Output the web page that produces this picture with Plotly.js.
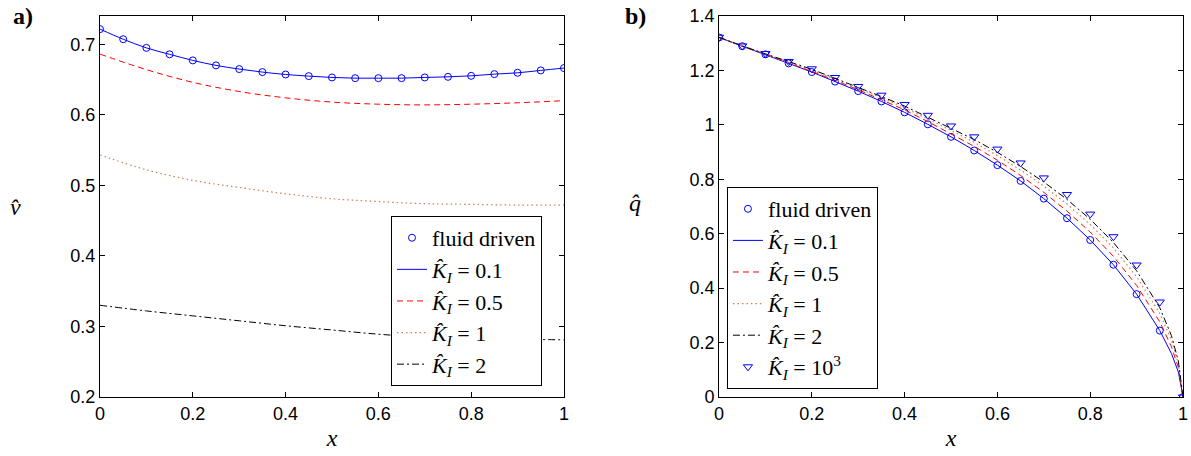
<!DOCTYPE html>
<html>
<head>
<meta charset="utf-8">
<script src="https://cdn.plot.ly/plotly-3.0.1.min.js"></script>
<style>html,body{margin:0;padding:0;background:#fff;}#chart{width:1191px;height:456px;}</style>
</head>
<body>
<div id="chart"></div>
<script>
// ---------- panel a) ----------
const xFine = [0,0.05,0.1,0.15,0.2,0.25,0.3,0.35,0.4,0.45,0.5,0.55,0.6,0.65,0.7,0.75,0.8,0.85,0.9,0.95,1];
const xCoarse = [0,0.1,0.2,0.3,0.4,0.5,0.6,0.7,0.8,0.9,1];
const vFluid = [0.7214,0.7071,0.6948,0.6857,0.6771,0.6700,0.6648,0.6605,0.6571,0.6548,0.6529,0.6519,0.6519,0.6519,0.6529,0.6538,0.6552,0.6576,0.6595,0.6629,0.6662];
const vK01 = [0.7214,0.7071,0.6948,0.6857,0.6771,0.6700,0.6648,0.6605,0.6571,0.6548,0.6529,0.6519,0.6519,0.6519,0.6529,0.6538,0.6552,0.6576,0.6595,0.6629,0.6662];
const vK05 = [0.686,0.664,0.646,0.633,0.624,0.618,0.615,0.614,0.615,0.617,0.620];
const vK1  = [0.543,0.522,0.507,0.497,0.488,0.481,0.477,0.474,0.473,0.472,0.472];
const vK2  = [0.330,0.322,0.315,0.308,0.301,0.295,0.289,0.285,0.283,0.282,0.281];

// ---------- panel b) ----------
const xTip = [0,0.05,0.1,0.15,0.2,0.25,0.3,0.35,0.4,0.45,0.5,0.55,0.6,0.65,0.7,0.75,0.8,0.85,0.9,0.95,0.975,0.99,1];
const qFluid = [1.321,1.289,1.259,1.226,1.194,1.159,1.124,1.086,1.046,1.002,0.956,0.906,0.852,0.794,0.729,0.657,0.577,0.486,0.378,0.244,0];
const qK01 = [1.321,1.289,1.259,1.226,1.194,1.159,1.124,1.086,1.046,1.002,0.956,0.906,0.852,0.794,0.729,0.657,0.577,0.486,0.378,0.244,0.160,0.092,0];
const qK05 = [1.321,1.289,1.260,1.228,1.198,1.164,1.129,1.093,1.055,1.012,0.968,0.921,0.870,0.814,0.752,0.683,0.606,0.517,0.410,0.276,0.185,0.108,0];
const qK1  = [1.321,1.290,1.261,1.230,1.201,1.168,1.134,1.100,1.063,1.022,0.980,0.936,0.887,0.834,0.775,0.709,0.634,0.548,0.442,0.307,0.210,0.122,0];
const qK2  = [1.322,1.290,1.261,1.232,1.204,1.171,1.138,1.104,1.069,1.028,0.988,0.946,0.899,0.847,0.790,0.726,0.653,0.568,0.464,0.328,0.226,0.132,0];
const qK1e3 = [1.322,1.290,1.262,1.233,1.206,1.174,1.141,1.109,1.075,1.035,0.996,0.956,0.911,0.860,0.805,0.744,0.672,0.589,0.485,0.349,0];

const legendNames = ['fluid driven','<i>K\u0302</i><sub><i>I</i></sub> = 0.1','<i>K\u0302</i><sub><i>I</i></sub> = 0.5','<i>K\u0302</i><sub><i>I</i></sub> = 1','<i>K\u0302</i><sub><i>I</i></sub> = 2','<i>K\u0302</i><sub><i>I</i></sub> = 10<sup>3</sup>'];

const BLUE = '#0000ff', RED = '#ff0000', BROWN = '#cf7f55', BLACK = '#000000';
const SERIF = 'Liberation Serif';
const SANS = 'Liberation Sans';

const traces = [
  // panel a
  {x: xFine, y: vFluid, xaxis:'x', yaxis:'y', mode:'markers', name: legendNames[0], legend:'legend', legendgroup:'a0',
   marker:{symbol:'circle-open', size:7, color:BLUE, line:{width:1, color:BLUE}}},
  {x: xFine, y: vK01, xaxis:'x', yaxis:'y', mode:'lines', name: legendNames[1], legend:'legend', legendgroup:'a1',
   line:{color:BLUE, width:1, shape:'spline'}},
  {x: xCoarse, y: vK05, xaxis:'x', yaxis:'y', mode:'lines', name: legendNames[2], legend:'legend', legendgroup:'a2',
   line:{color:RED, width:1, dash:'6px,4px', shape:'spline'}},
  {x: xCoarse, y: vK1, xaxis:'x', yaxis:'y', mode:'lines', name: legendNames[3], legend:'legend', legendgroup:'a3',
   line:{color:BROWN, width:1.2, dash:'1.5px,3px', shape:'spline'}},
  {x: xCoarse, y: vK2, xaxis:'x', yaxis:'y', mode:'lines', name: legendNames[4], legend:'legend', legendgroup:'a4',
   line:{color:BLACK, width:1, dash:'7px,3px,2px,3px', shape:'spline'}},
  // panel b
  {x: xFine, y: qFluid, xaxis:'x2', yaxis:'y2', mode:'markers', name: legendNames[0], legend:'legend2', legendgroup:'b0',
   marker:{symbol:'circle-open', size:7, color:BLUE, line:{width:1, color:BLUE}}},
  {x: xTip, y: qK01, xaxis:'x2', yaxis:'y2', mode:'lines', name: legendNames[1], legend:'legend2', legendgroup:'b1',
   line:{color:BLUE, width:1}},
  {x: xTip, y: qK05, xaxis:'x2', yaxis:'y2', mode:'lines', name: legendNames[2], legend:'legend2', legendgroup:'b2',
   line:{color:RED, width:1, dash:'6px,4px'}},
  {x: xTip, y: qK1, xaxis:'x2', yaxis:'y2', mode:'lines', name: legendNames[3], legend:'legend2', legendgroup:'b3',
   line:{color:BROWN, width:1.2, dash:'1.5px,3px'}},
  {x: xTip, y: qK2, xaxis:'x2', yaxis:'y2', mode:'lines', name: legendNames[4], legend:'legend2', legendgroup:'b4',
   line:{color:BLACK, width:1, dash:'7px,3px,2px,3px'}},
  {x: xFine, y: qK1e3, xaxis:'x2', yaxis:'y2', mode:'markers', name: legendNames[5], legend:'legend2', legendgroup:'b5',
   marker:{symbol:'triangle-down-open', size:8, color:BLUE, line:{width:1, color:BLUE}}}
];

const axisCommon = {
  showgrid:false, zeroline:false, showline:true, linecolor:'#000', linewidth:1, mirror:'allticks',
  ticks:'inside', ticklen:5, tickwidth:1, tickcolor:'#000',
  tickfont:{family:SANS, size:18, color:'#000'}
};

const legendCommon = {
  bgcolor:'#fff', bordercolor:'#000', borderwidth:1,
  font:{family:SERIF, size:22, color:'#000'},
  xanchor:'left', yanchor:'bottom', tracegroupgap:0, itemwidth:30
};

const layout = {
  width:1191, height:456,
  margin:{l:100, r:8, t:16, b:59},
  paper_bgcolor:'#fff', plot_bgcolor:'#fff',
  showlegend:true,
  xaxis: Object.assign({}, axisCommon, {domain:[0,0.4284], range:[0,1], dtick:0.2, tick0:0, anchor:'y',
    title:{text:'<i>x</i>', font:{family:SERIF, size:24, color:'#000'}, standoff:6}}),
  yaxis: Object.assign({}, axisCommon, {domain:[0,1], range:[0.2,0.74], dtick:0.1, tick0:0.2, anchor:'x'}),
  xaxis2: Object.assign({}, axisCommon, {domain:[0.5716,1], range:[0,1], dtick:0.2, tick0:0, anchor:'y2',
    title:{text:'<i>x</i>', font:{family:SERIF, size:24, color:'#000'}, standoff:6}}),
  yaxis2: Object.assign({}, axisCommon, {domain:[0,1], range:[0,1.4], dtick:0.2, tick0:0, anchor:'x2'}),
  legend: Object.assign({}, legendCommon, {x:0.2687, y:0.029}),
  legend2: Object.assign({}, legendCommon, {x:0.5789, y:0.021}),
  annotations:[
    {text:'<b>a)</b>', xref:'paper', yref:'paper', x:-0.071, y:1.0, xanchor:'center', yanchor:'middle', showarrow:false,
     font:{family:SERIF, size:24, color:'#000'}},
    {text:'<b>b)</b>', xref:'paper', yref:'paper', x:0.4949, y:1.0, xanchor:'center', yanchor:'middle', showarrow:false,
     font:{family:SERIF, size:24, color:'#000'}},
    {text:'<i>v\u0302</i>', xref:'paper', yref:'paper', x:-0.0776, y:0.499, xanchor:'center', yanchor:'middle', showarrow:false,
     font:{family:SERIF, size:24, color:'#000'}},
    {text:'<i>q\u0302</i>', xref:'paper', yref:'paper', x:0.494, y:0.509, xanchor:'center', yanchor:'middle', showarrow:false,
     font:{family:SERIF, size:24, color:'#000'}}
  ]
};

Plotly.newPlot('chart', traces, layout, {displayModeBar:false, staticPlot:true});
</script>
</body>
</html>
